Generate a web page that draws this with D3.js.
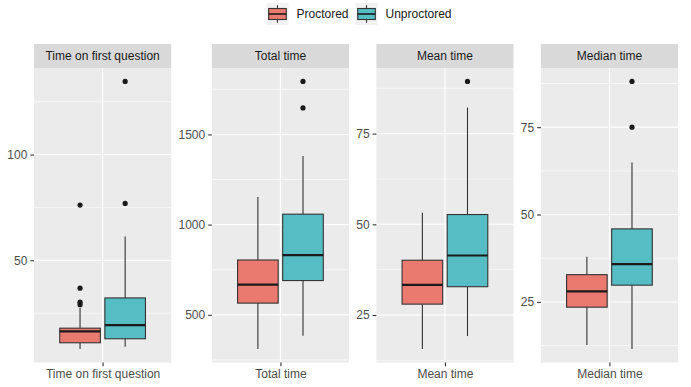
<!DOCTYPE html>
<html>
<head>
<meta charset="utf-8">
<script src="https://cdn.jsdelivr.net/npm/d3@7"></script>
<style>
  html, body { margin: 0; padding: 0; background: #fff; }
  text { font-family: "Liberation Sans", Arial, sans-serif; }
</style>
</head>
<body>
<div id="chart"></div>
<script>
///// DATA
const facetNames = ['Time on first question', 'Total time', 'Mean time', 'Median time'];
const groupNames = ['Proctored', 'Unproctored'];
const groupColors = ['#EA7A6F', '#55BDC3'];

// [lower whisker, Q1, median, Q3, upper whisker] per facet
const proctoredBoxes = [
    [8, 11, 16.4, 17.9, 27.5],
    [310, 565, 668, 804, 1153],
    [15.6, 28.0, 33.3, 40.1, 53.2],
    [12.7, 23.5, 28.0, 32.8, 37.9]
];
const unproctoredBoxes = [
    [9.1, 12.9, 19.3, 32.2, 61.3],
    [384, 690, 831, 1058, 1380],
    [19.2, 32.8, 41.4, 52.7, 82.2],
    [11.5, 29.8, 35.8, 45.9, 64.9]
];
const proctoredOutliers = [[29, 30.2, 36.8, 76.1], [], [], []];
const unproctoredOutliers = [[76.9, 134.6], [1647, 1794], [89.4], [75.0, 88.1]];

// labelled y ticks per facet
const yTicks = [[50, 100], [500, 1000, 1500], [25, 50, 75], [25, 50, 75]];

///// LAYOUT
const WIDTH = 691, HEIGHT = 387;
const MARGIN = { left: 7, right: 13 };
const STRIP_TOP = 44, STRIP_H = 24;
const PANEL_TOP = STRIP_TOP + STRIP_H, PANEL_BOTTOM = 362.5;
const FONT = 12;
const fmt = d3.format('d');

const svg = d3.select('#chart').append('svg')
    .attr('width', WIDTH)
    .attr('height', HEIGHT);

// measure tick label widths to place panels like ggplot does
const measure = svg.append('text').attr('font-size', FONT);
const textW = s => { measure.text(s); return measure.node().getComputedTextLength(); };
const labelWidths = yTicks.map(t => d3.max(t, v => textW(fmt(v))));

const axisSpace = labelWidths.map(w => w + 7);   // label + tick + margin
const spacing = 7;
const panelW = (WIDTH - MARGIN.left - MARGIN.right - d3.sum(axisSpace) - spacing * 3) / facetNames.length;

const panelLefts = [];
let cursor = MARGIN.left;
facetNames.forEach((f, i) => {
    cursor += axisSpace[i];
    panelLefts.push(cursor);
    cursor += panelW + spacing;
});

///// PANELS
facetNames.forEach((name, i) => {
    const boxes = [proctoredBoxes[i], unproctoredBoxes[i]];
    const outliers = [proctoredOutliers[i], unproctoredOutliers[i]];

    const lo = d3.min([...boxes.map(b => b[0]), ...outliers.flat()]);
    const hi = d3.max([...boxes.map(b => b[4]), ...outliers.flat()]);
    const pad = (hi - lo) * 0.05;

    const y = d3.scaleLinear()
        .domain([lo - pad, hi + pad])
        .range([PANEL_BOTTOM, PANEL_TOP]);

    // one discrete category, ggplot expands by 0.6 each side
    const x = d3.scaleLinear().domain([0.4, 1.6]).range([0, panelW]);
    const xg = d3.scaleBand()
        .domain(groupNames)
        .range([x(1 - 0.375), x(1 + 0.375)])
        .paddingInner(0.1);

    const g = svg.append('g').attr('transform', `translate(${panelLefts[i]},0)`);

    // STRIP
    g.append('rect')
        .attr('x', 0).attr('y', STRIP_TOP)
        .attr('width', panelW).attr('height', STRIP_H)
        .attr('fill', '#D9D9D9');
    g.append('text')
        .attr('x', panelW / 2).attr('y', STRIP_TOP + STRIP_H / 2)
        .attr('dy', '0.35em')
        .attr('text-anchor', 'middle')
        .attr('font-size', FONT)
        .attr('fill', '#1A1A1A')
        .text(name);

    // BACKGROUND
    g.append('rect')
        .attr('x', 0).attr('y', PANEL_TOP)
        .attr('width', panelW).attr('height', PANEL_BOTTOM - PANEL_TOP)
        .attr('fill', '#EBEBEB');

    // MINOR GRID
    const ticks = yTicks[i];
    const step = ticks[1] - ticks[0];
    const minor = [];
    for (let v = ticks[0] - step / 2; v <= y.domain()[1]; v += step) {
        if (v >= y.domain()[0]) minor.push(v);
    }
    g.selectAll('.minor').data(minor).enter().append('line')
        .attr('x1', 0).attr('x2', panelW)
        .attr('y1', d => y(d)).attr('y2', d => y(d))
        .attr('stroke', '#fff').attr('stroke-width', 0.55);

    // MAJOR GRID
    g.selectAll('.major').data(ticks).enter().append('line')
        .attr('x1', 0).attr('x2', panelW)
        .attr('y1', d => y(d)).attr('y2', d => y(d))
        .attr('stroke', '#fff').attr('stroke-width', 1.1);
    g.append('line')
        .attr('x1', x(1)).attr('x2', x(1))
        .attr('y1', PANEL_TOP).attr('y2', PANEL_BOTTOM)
        .attr('stroke', '#fff').attr('stroke-width', 1.1);

    // Y AXIS
    const yAxis = g.append('g')
        .call(d3.axisLeft(y).tickValues(ticks).tickFormat(fmt)
            .tickSizeInner(3.7).tickSizeOuter(0).tickPadding(3));
    yAxis.select('.domain').remove();
    yAxis.selectAll('line').attr('stroke', '#333333').attr('stroke-width', 1.1);
    yAxis.selectAll('text').attr('font-size', FONT).attr('fill', '#4D4D4D')
        .attr('font-family', '"Liberation Sans", Arial, sans-serif');

    // X AXIS
    const xAxis = g.append('g')
        .attr('transform', `translate(0,${PANEL_BOTTOM})`)
        .call(d3.axisBottom(x).tickValues([1]).tickFormat(() => name)
            .tickSizeInner(3.7).tickSizeOuter(0).tickPadding(3));
    xAxis.select('.domain').remove();
    xAxis.selectAll('line').attr('stroke', '#333333').attr('stroke-width', 1.1);
    xAxis.selectAll('text').attr('font-size', FONT).attr('fill', '#4D4D4D')
        .attr('font-family', '"Liberation Sans", Arial, sans-serif');

    // BOXES
    groupNames.forEach((grp, k) => {
        const b = boxes[k];
        const x0 = xg(grp), bw = xg.bandwidth(), cx = x0 + bw / 2;
        const bg = g.append('g');

        bg.append('line')
            .attr('x1', cx).attr('x2', cx)
            .attr('y1', y(b[0])).attr('y2', y(b[1]))
            .attr('stroke', '#333333').attr('stroke-width', 1.1);
        bg.append('line')
            .attr('x1', cx).attr('x2', cx)
            .attr('y1', y(b[3])).attr('y2', y(b[4]))
            .attr('stroke', '#333333').attr('stroke-width', 1.1);
        bg.append('rect')
            .attr('x', x0).attr('width', bw)
            .attr('y', y(b[3])).attr('height', y(b[1]) - y(b[3]))
            .attr('fill', groupColors[k])
            .attr('stroke', '#333333').attr('stroke-width', 1.1);
        bg.append('line')
            .attr('x1', x0).attr('x2', x0 + bw)
            .attr('y1', y(b[2])).attr('y2', y(b[2]))
            .attr('stroke', '#1A1A1A').attr('stroke-width', 2.2);

        bg.selectAll('circle').data(outliers[k]).enter().append('circle')
            .attr('cx', cx).attr('cy', d => y(d))
            .attr('r', 2.6)
            .attr('fill', '#1A1A1A');
    });
});

///// LEGEND
const KEY = 22;
const legendItems = groupNames.map((n, i) => ({ name: n, color: groupColors[i], w: textW(n) }));
const legendW = d3.sum(legendItems, d => KEY + 8 + d.w) + 7;
const panelsCenter = (panelLefts[0] + panelLefts[3] + panelW) / 2;
let lx = panelsCenter - legendW / 2 + 3;
const legend = svg.append('g').attr('transform', 'translate(0,3)');
legendItems.forEach(d => {
    const key = legend.append('g').attr('transform', `translate(${lx},0)`);
    key.append('rect').attr('width', KEY).attr('height', KEY).attr('fill', '#F2F2F2');
    key.append('line')
        .attr('x1', KEY / 2).attr('x2', KEY / 2)
        .attr('y1', KEY * 0.1).attr('y2', KEY * 0.9)
        .attr('stroke', '#333333').attr('stroke-width', 1.1);
    key.append('rect')
        .attr('x', KEY * 0.1).attr('y', KEY * 0.25)
        .attr('width', KEY * 0.8).attr('height', KEY * 0.5)
        .attr('fill', d.color).attr('stroke', '#333333').attr('stroke-width', 1.1);
    key.append('line')
        .attr('x1', KEY * 0.1).attr('x2', KEY * 0.9)
        .attr('y1', KEY / 2).attr('y2', KEY / 2)
        .attr('stroke', '#1A1A1A').attr('stroke-width', 1.6);
    key.append('text')
        .attr('x', KEY + 8).attr('y', KEY / 2).attr('dy', '0.35em')
        .attr('font-size', FONT).attr('fill', '#1A1A1A')
        .text(d.name);
    lx += KEY + 8 + d.w + 7;
});
measure.remove();
</script>
</body>
</html>
